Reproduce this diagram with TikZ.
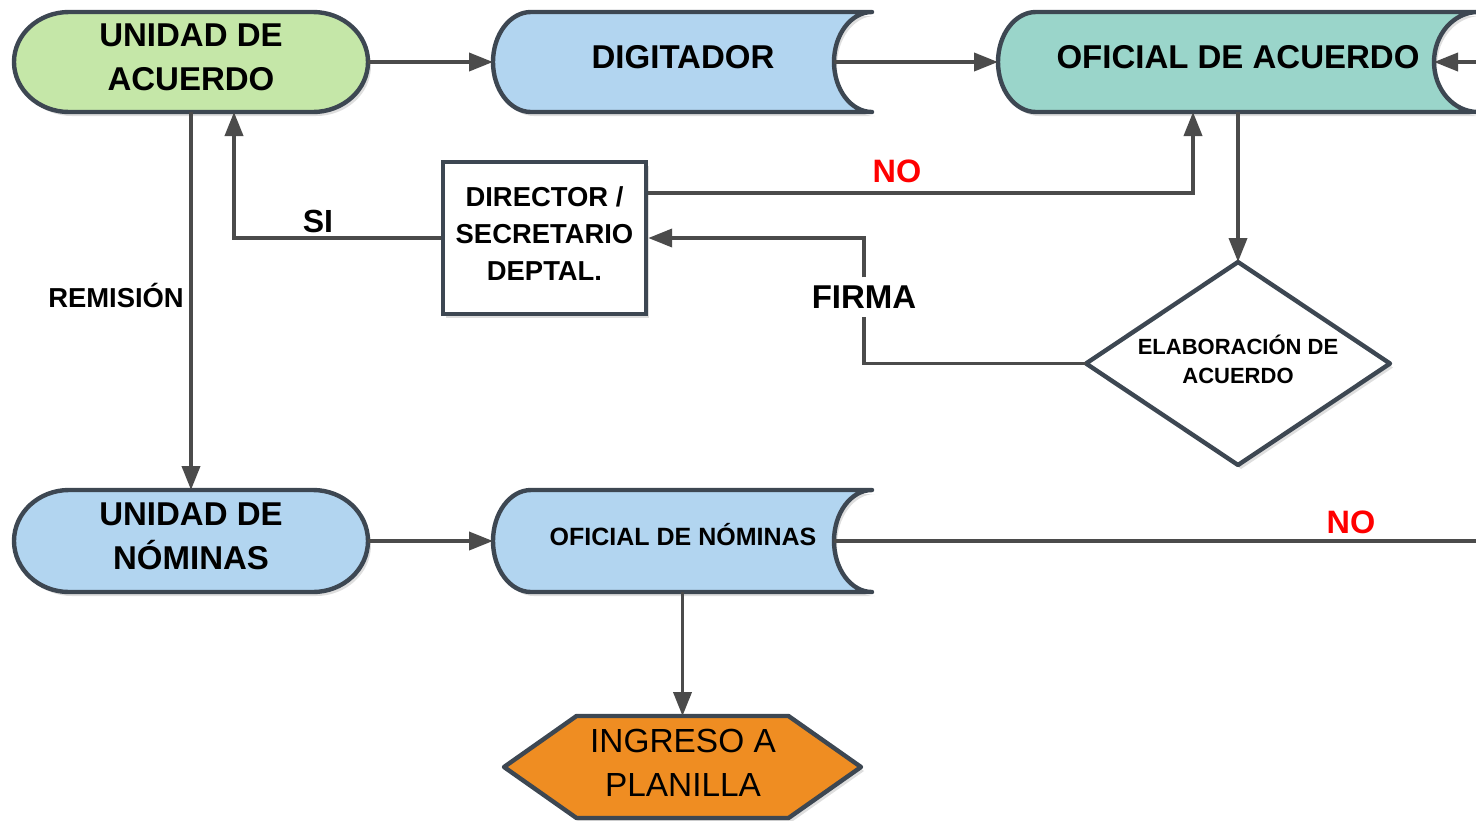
\documentclass[tikz,border=0pt]{standalone}
\usepackage{fontspec}
\setmainfont{Liberation Sans}
\usetikzlibrary{arrows.meta,shadows}
\definecolor{bord}{HTML}{3D4752}
\definecolor{conncol}{HTML}{4B4B4B}
\definecolor{fgreen}{HTML}{C5E7A8}
\definecolor{fblue}{HTML}{B2D5F0}
\definecolor{fteal}{HTML}{9AD5CA}
\definecolor{forange}{HTML}{EF8D22}
\definecolor{fred}{HTML}{FF0000}
\begin{document}
\begin{tikzpicture}[x=0.5pt,y=-0.5pt,
  outline/.style={draw=bord, line width=2.2pt, line join=round,
    drop shadow={shadow xshift=1.5pt, shadow yshift=-2pt, opacity=0.13, fill=black}},
  conn/.style={draw=conncol, line width=1.9pt, -{Triangle[length=12pt,width=9pt]}},
  plainconn/.style={draw=conncol, line width=1.9pt},
  frame/.style={draw=none, inner sep=0pt, outer sep=0pt},
  bigtxt/.style={inner sep=0pt, align=center, text=black, font=\fontsize{16.5pt}{22pt}\selectfont\bfseries},
  regtxt/.style={inner sep=0pt, align=center, text=black, font=\fontsize{16.7pt}{22pt}\selectfont},
  midtxt/.style={inner sep=0pt, align=center, text=black, font=\fontsize{13.7pt}{18.5pt}\selectfont\bfseries},
  smalltxt/.style={inner sep=0pt, align=center, text=black, font=\fontsize{11pt}{14.5pt}\selectfont\bfseries},
  redlbl/.style={inner sep=0pt, text=fred, font=\fontsize{16.2pt}{20pt}\selectfont\bfseries},
]
\useasboundingbox (0,0) rectangle (1476,820);
\clip (0,0) rectangle (1476,820);

% ---- frames (named nodes carrying the shapes' extents)
\node[frame, minimum width=177pt, minimum height=50pt] (ua) at (191,62) {};
\node[frame, minimum width=189.5pt, minimum height=50pt] (dig) at (682.5,62) {};
\node[frame, minimum width=240pt, minimum height=50pt] (oa) at (1238,62) {};
\node[frame, minimum width=152pt, minimum height=101.5pt] (el) at (1238,363.5) {};
\node[frame, minimum width=177pt, minimum height=51pt] (un) at (191,541) {};
\node[frame, minimum width=189.5pt, minimum height=51pt] (on) at (682.5,541) {};
\node[frame, minimum width=178.5pt, minimum height=51pt] (ing) at (682.5,767) {};

% ---- shapes
\path[outline, fill=fgreen] (69,12) -- (313,12)
  arc[start angle=90, end angle=-90, x radius=27.5pt, y radius=25pt] -- (69,112)
  arc[start angle=270, end angle=90, x radius=27.5pt, y radius=25pt] -- cycle;
\path[outline, fill=fblue] (531,12) -- (872,12)
  arc[start angle=90, end angle=270, x radius=19pt, y radius=25pt] -- (531,112)
  arc[start angle=270, end angle=90, x radius=19pt, y radius=25pt] -- cycle;
\path[outline, fill=fteal] (1036,12) -- (1478,12)
  arc[start angle=90, end angle=270, x radius=22pt, y radius=25pt] -- (1036,112)
  arc[start angle=270, end angle=90, x radius=19pt, y radius=25pt] -- cycle;
\node[draw=bord, line width=2.2pt, fill=white, minimum width=101.5pt, minimum height=76pt,
  inner sep=0pt, drop shadow={shadow xshift=1.5pt, shadow yshift=-2pt, opacity=0.13, fill=black}]
  (dir) at (544.5,238) {};
\path[outline, fill=white] (el.north) -- (el.east) -- (el.south) -- (el.west) -- cycle;
\path[outline, fill=fblue] (69,490) -- (313,490)
  arc[start angle=90, end angle=-90, x radius=27.5pt, y radius=25.5pt] -- (69,592)
  arc[start angle=270, end angle=90, x radius=27.5pt, y radius=25.5pt] -- cycle;
\path[outline, fill=fblue] (531,490) -- (872,490)
  arc[start angle=90, end angle=270, x radius=19pt, y radius=25.5pt] -- (531,592)
  arc[start angle=270, end angle=90, x radius=19pt, y radius=25.5pt] -- cycle;
\path[outline, fill=forange] (576.5,716) -- (788.5,716) -- (861,767) -- (788.5,818)
  -- (576.5,818) -- (504,767) -- cycle;

% ---- texts
\node[bigtxt] (uaT) at (191,57.5) {UNIDAD DE\\ACUERDO};
\node[bigtxt] (digT) at (683,57) {DIGITADOR};
\node[bigtxt] (oaT) at (1238,57) {OFICIAL DE ACUERDO};
\node[midtxt] (dirT) at (544.5,234) {DIRECTOR /\\SECRETARIO\\DEPTAL.};
\node[smalltxt] (elT) at (1238,359.5) {ELABORACIÓN DE\\ACUERDO};
\node[bigtxt] (unT) at (191,536) {UNIDAD DE\\NÓMINAS};
\node[font=\fontsize{12.5pt}{15pt}\selectfont\bfseries, inner sep=0pt] (onT) at (683,534.5) {OFICIAL DE NÓMINAS};
\node[regtxt] (ingT) at (683,763) {INGRESO A\\PLANILLA};

% ---- labels
\node[inner sep=0pt, font=\fontsize{16pt}{18pt}\selectfont\bfseries] (si) at (318,221) {SI};
\node[inner sep=0pt, font=\fontsize{13.7pt}{16pt}\selectfont\bfseries] (rem) at (116,295) {REMISIÓN};
\node[redlbl] (no1) at (897,171) {NO};
\node[redlbl] (no2) at (1351,522) {NO};
\node[inner sep=4pt, font=\fontsize{16.5pt}{18pt}\selectfont\bfseries] (firma) at (864,297) {FIRMA};

% ---- free ends at the picture's right edge
\coordinate (offA) at (1480,62);
\coordinate (offN) at (1480,541);

% ---- connectors
\draw[conn] (ua.east) -- (dig.west);
\draw[conn] ([xshift=-19pt]dig.east) -- (oa.west);
\draw[conn] (offA) -- ([xshift=-22pt]oa.east);
\draw[conn] (ua.south) -- (un.north);
\draw[conn] (dir.west) -| ([xshift=21.5pt]ua.south);
\draw[conn] ([yshift=22.5pt]dir.east) -| ([xshift=-22.5pt]oa.south);
\draw[conn] (oa.south) -- (el.north);
\draw[conn] (el.west) -| (firma) |- (dir.east);
\draw[conn] (un.east) -- (on.west);
\draw[plainconn] ([xshift=-19pt]on.east) -- (offN);
\draw[conn] (on.south) -- (ing.north);
\end{tikzpicture}
\end{document}
